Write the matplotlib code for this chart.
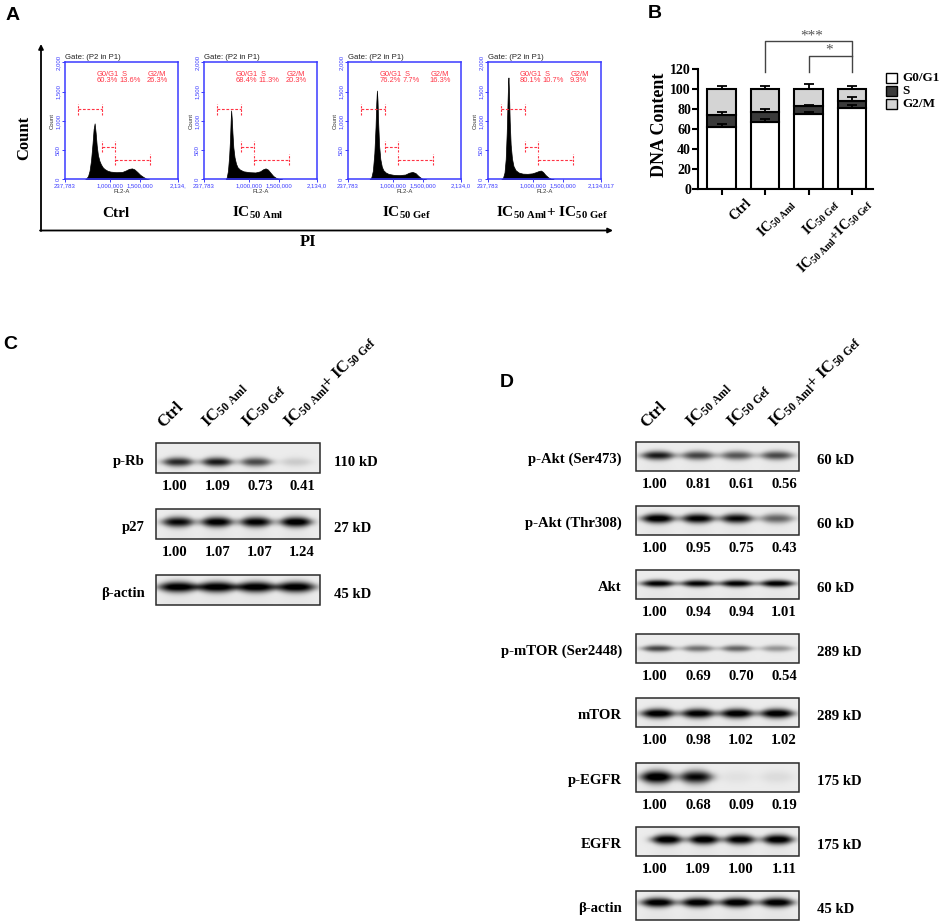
import numpy as np
import matplotlib
matplotlib.use('Agg')
import matplotlib.pyplot as plt
from matplotlib.patches import Rectangle

plt.rcParams['font.family'] = ['Liberation Serif', 'DejaVu Serif']
plt.rcParams['mathtext.fontset'] = 'custom'
plt.rcParams['mathtext.rm'] = 'Liberation Serif'
plt.rcParams['mathtext.bf'] = 'Liberation Serif:bold'
plt.rcParams['mathtext.it'] = 'Liberation Serif:italic'

W, H = 941, 922

# ---------------- data ----------------
treatments = ['Ctrl', r'IC$_{\mathbf{50\ Aml}}$', r'IC$_{\mathbf{50\ Gef}}$',
              r'IC$_{\mathbf{50\ Aml}}$+ IC$_{\mathbf{50\ Gef}}$']
treatments_b = ['Ctrl', r'IC$_{\mathbf{50\ Aml}}$', r'IC$_{\mathbf{50\ Gef}}$',
                r'IC$_{\mathbf{50\ Aml}}$+IC$_{\mathbf{50\ Gef}}$']

# Panel A: flow cytometry histograms (FL2-A in thousands, counts)
fl2_ctrl = [575, 600, 625, 650, 675, 700, 718, 735, 752, 770, 790, 815, 840, 870, 900, 950,
            1000, 1100, 1200, 1260, 1310, 1360, 1400, 1450, 1500, 1550, 1600, 1650]
cnt_ctrl = [0, 25, 60, 150, 330, 620, 860, 960, 800, 580, 420, 320, 260, 210, 180, 150,
            135, 125, 130, 155, 180, 190, 175, 130, 80, 45, 15, 0]
fl2_aml = [600, 620, 640, 660, 675, 685, 693, 703, 715, 730, 750, 775, 800, 840, 900, 1000,
           1100, 1180, 1230, 1271, 1310, 1350, 1400, 1450, 1500, 1550]
cnt_aml = [0, 40, 150, 400, 700, 1000, 1180, 1050, 800, 550, 380, 270, 210, 170, 140, 125,
           120, 140, 175, 190, 170, 120, 60, 25, 8, 0]
fl2_gef = [600, 630, 655, 680, 700, 712, 723, 733, 745, 760, 780, 805, 830, 870, 920, 1000,
           1100, 1200, 1260, 1319, 1370, 1420, 1470, 1510, 1550]
cnt_gef = [0, 40, 150, 450, 900, 1300, 1520, 1350, 950, 580, 350, 220, 160, 120, 95, 80,
           75, 85, 115, 130, 110, 60, 20, 5, 0]
fl2_combo = [460, 490, 515, 535, 552, 565, 575, 581, 590, 602, 618, 640, 665, 700, 750, 820,
             900, 980, 1040, 1090, 1125, 1160, 1200, 1250, 1300, 1340]
cnt_combo = [0, 30, 120, 350, 800, 1300, 1650, 1744, 1500, 1000, 600, 360, 230, 160, 120, 100,
             97, 105, 125, 145, 153, 130, 80, 35, 10, 0]

phase_names = ['G0/G1', 'S', 'G2/M']
phase_pct = [[60.3, 13.6, 26.3], [68.4, 11.3, 20.3], [76.2, 7.7, 16.3], [80.1, 10.7, 9.3]]
# gates: (start, end, level) in FL2-A / counts
gates = [(450000, 856000, 1200), (856000, 1085000, 560), (1085000, 1665000, 340)]
hist_xticks = [237783, 1000000, 1500000, 2134017]
hist_xticklabels = [['237,783', '1,000,000', '1,500,000', '2,134,'],
                    ['237,783', '1,000,000', '1,500,000', '2,134,0'],
                    ['237,783', '1,000,000', '1,500,000', '2,134,0'],
                    ['237,783', '1,000,000', '1,500,000', '2,134,017']]
hist_yticks = [0, 500, 1000, 1500, 2000]
hist_yticklabels = ['0', '500', '1,000', '1,500', '2,000']

# Panel B: DNA content stacked bars
g0g1 = [62.3, 67.3, 74.7, 80.7]
s_phase = [11.7, 9.4, 8.6, 7.4]
g2m = [26.0, 23.3, 16.7, 11.9]
err_g0g1 = [2.4, 2.4, 2.0, 3.3]
err_s = [2.8, 3.3, 0.8, 3.5]
err_g2m = [3.0, 3.0, 4.7, 3.0]
b_yticks = [0, 20, 40, 60, 80, 100, 120]

# Panel C: western blots
c_names = ['p-Rb', 'p27', 'β-actin']
c_kd = ['110 kD', '27 kD', '45 kD']
c_values = [[1.00, 1.09, 0.73, 0.41], [1.00, 1.07, 1.07, 1.24], None]
c_dark = [[0.72, 0.78, 0.60, 0.12], [0.85, 0.92, 0.90, 0.95], [0.95, 0.95, 0.95, 0.95]]

# Panel D: western blots
d_names = ['p-Akt (Ser473)', 'p-Akt (Thr308)', 'Akt', 'p-mTOR (Ser2448)', 'mTOR',
           'p-EGFR', 'EGFR', 'β-actin']
d_kd = ['60 kD', '60 kD', '60 kD', '289 kD', '289 kD', '175 kD', '175 kD', '45 kD']
d_values = [[1.00, 0.81, 0.61, 0.56], [1.00, 0.95, 0.75, 0.43], [1.00, 0.94, 0.94, 1.01],
            [1.00, 0.69, 0.70, 0.54], [1.00, 0.98, 1.02, 1.02], [1.00, 0.68, 0.09, 0.19],
            [1.00, 1.09, 1.00, 1.11], None]
d_dark = [[0.78, 0.62, 0.55, 0.60], [0.95, 0.90, 0.85, 0.50], [0.90, 0.88, 0.90, 0.92],
          [0.62, 0.45, 0.50, 0.32], [0.95, 0.92, 0.95, 0.95], [0.98, 0.85, 0.04, 0.06],
          [0.95, 0.95, 0.92, 0.95], [0.95, 0.95, 0.97, 0.95]]

# ---------------- figure ----------------
fig = plt.figure(figsize=(W / 100, H / 100), dpi=100)
bg = fig.add_axes([0, 0, 1, 1], zorder=0)
bg.axis('off')

BLUE = '#3a3aff'
RED = '#ff3344'
SANS = 'Liberation Sans'

# panel letters
for letter, (lx, ly) in zip('ABCD', [(13, 16), (655, 14), (10, 344), (507, 382)]):
    bg.text(lx, ly, letter, fontsize=14, fontweight='bold', family=SANS, ha='center', va='center')

# ---------- Panel A ----------
hist_x = [fl2_ctrl, fl2_aml, fl2_gef, fl2_combo]
hist_y = [cnt_ctrl, cnt_aml, cnt_gef, cnt_combo]
hist_lefts = [65, 204, 348, 488]
label_cx = [116, 258, 407, 552]
for i in range(4):
    ax = fig.add_axes([hist_lefts[i] / W, 1 - 179.5 / H, 113 / W, 117 / H], zorder=2)
    ax.fill_between(np.array(hist_x[i]) * 1000, hist_y[i], color='black', lw=0.5, ec='black')
    ax.set_xlim(237783, 2134017)
    ax.set_ylim(0, 2000)
    for sp in ax.spines.values():
        sp.set_color(BLUE)
        sp.set_linewidth(1.1)
    ax.set_yticks(hist_yticks)
    ax.set_yticklabels(hist_yticklabels, rotation=90, va='center', fontsize=4.3, family=SANS)
    ax.set_xticks(hist_xticks)
    ax.set_xticklabels(hist_xticklabels[i], fontsize=4.3, family=SANS)
    ax.tick_params(colors=BLUE, length=2, width=0.7, pad=1)
    ax.set_xlabel('FL2-A', fontsize=4.3, family=SANS, labelpad=0.5, color='#333333')
    ax.set_ylabel('Count', fontsize=4.3, family=SANS, labelpad=1, color='#333333')
    ax.text(0.0, 1.01, 'Gate: (P2 in P1)', transform=ax.transAxes, fontsize=5.6,
            family=SANS, ha='left', va='bottom', color='#222222')
    for nm, hx in zip(phase_names, [0.28, 0.50, 0.735]):
        ax.text(hx, 0.895, nm, transform=ax.transAxes, fontsize=5.4, family=SANS,
                color=RED, ha='left', va='center')
    for v, hx in zip(phase_pct[i], [0.28, 0.485, 0.72]):
        ax.text(hx, 0.845, f'{v}%', transform=ax.transAxes, fontsize=5.4, family=SANS,
                color=RED, ha='left', va='center')
    for (g0, g1, lev) in gates:
        ax.plot([g0, g1], [lev, lev], color=RED, lw=0.8, dashes=(2.5, 1.5))
        for gx in (g0, g1):
            ax.plot([gx, gx], [lev - 95, lev + 95], color=RED, lw=0.8, dashes=(2.0, 1.2))
    bg.text(label_cx[i], 213, treatments[i], fontsize=11, fontweight='bold',
            ha='center', va='center')

bg.annotate('', xy=(41, 44), xytext=(41, 231),
            arrowprops=dict(arrowstyle='-|>', color='black', lw=1.3, mutation_scale=7,
                            shrinkA=0, shrinkB=0))
bg.annotate('', xy=(613, 230.5), xytext=(40, 230.5),
            arrowprops=dict(arrowstyle='-|>', color='black', lw=1.3, mutation_scale=7,
                            shrinkA=0, shrinkB=0))
bg.text(24, 138, 'Count', rotation=90, fontsize=12, fontweight='bold', ha='center', va='center')
bg.text(308, 242, 'PI', fontsize=12, fontweight='bold', ha='center', va='center')

# ---------- Panel B ----------
axb = fig.add_axes([698 / W, 1 - 189 / H, 175 / W, 120 / H], zorder=2)
xb = np.arange(4)
bw = 0.655
g0g1_a = np.array(g0g1)
s_a = np.array(s_phase)
g2m_a = np.array(g2m)
axb.bar(xb, g0g1_a, bw, color='white', edgecolor='black', lw=1.5, zorder=2)
axb.bar(xb, s_a, bw, bottom=g0g1_a, color='#3a3a3a', edgecolor='black', lw=1.5, zorder=2)
axb.bar(xb, g2m_a, bw, bottom=g0g1_a + s_a, color='#d4d4d4', edgecolor='black', lw=1.5, zorder=2)
zeros = np.zeros(4)
for top, err in [(g0g1_a, err_g0g1), (g0g1_a + s_a, err_s), (g0g1_a + s_a + g2m_a, err_g2m)]:
    axb.errorbar(xb, top, yerr=[zeros, err], fmt='none', ecolor='black', elinewidth=1.3,
                 capsize=3.6, capthick=1.3, zorder=3)
axb.set_xlim(-0.54, 3.48)
axb.set_ylim(0, 120)
axb.set_yticks(b_yticks)
axb.set_yticklabels([str(v) for v in b_yticks], fontsize=10, fontweight='bold')
axb.set_xticks(xb)
axb.set_xticklabels([])
axb.tick_params(length=4, width=1.5, pad=1)
for sp in ['top', 'right']:
    axb.spines[sp].set_visible(False)
for sp in ['left', 'bottom']:
    axb.spines[sp].set_linewidth(1.5)
bg.text(660, 125, 'DNA Content', rotation=90, fontsize=13, fontweight='bold',
        ha='center', va='center')
axb.plot([1, 1, 3, 3], [117, 148, 148, 117], color='#444444', lw=1, clip_on=False)
axb.plot([2, 2, 3], [117, 133.3, 133.3], color='#444444', lw=1, clip_on=False)
axb.text(2.08, 149.5, '***', fontsize=11, color='#555555', ha='center', va='baseline')
axb.text(2.48, 135, '*', fontsize=11, color='#555555', ha='center', va='baseline')
b_centers_px = [721.5, 765, 808.5, 852]
b_label_dx = [23, 23, 23, 12]
for cx, dx, lab in zip(b_centers_px, b_label_dx, treatments_b):
    bg.text(cx + dx, 196, lab, rotation=45, rotation_mode='anchor', ha='right', va='top',
            fontsize=10, fontweight='bold')
# legend
leg_colors = ['white', '#3a3a3a', '#d4d4d4']
for nm, col, cy in zip(phase_names, leg_colors, [78, 91, 104]):
    bg.add_patch(Rectangle((886, cy - 5), 11, 10, fc=col, ec='black', lw=1.0, zorder=3))
    bg.text(902, cy, nm, fontsize=9.5, fontweight='bold', ha='left', va='center')


# ---------- Western blots ----------
def draw_blot(x0, y0, w, h, centers, dark, a, b, yoff, base=0.07):
    nx, ny = int(w * 4), int(h * 4)
    xs = np.linspace(x0, x0 + w, nx)
    ys = np.linspace(y0, y0 + h, ny)
    X, Y = np.meshgrid(xs, ys)
    Z = np.full_like(X, base)
    yc = y0 + h / 2 + yoff
    for c, d in zip(centers, dark):
        u = np.clip((X - c) / a, -1.5, 1.5)
        bb = b * (1 - 0.3 * np.clip(u ** 2, 0, 1))
        Z += d * np.exp(-np.abs((X - c) / a) ** 3) * np.exp(-((Y - yc) / bb) ** 2)
        # faint smear below each band
        Z += 0.05 * d * np.exp(-np.abs((X - c) / a) ** 3) * np.clip((Y - yc) / h, 0, 1)
    Z = np.clip(Z * 1.08, 0, 1)
    bg.imshow(Z, cmap='gray_r', vmin=0, vmax=1, extent=(x0, x0 + w, y0 + h, y0),
              aspect='auto', interpolation='bilinear', zorder=1)
    bg.add_patch(Rectangle((x0, y0), w, h, fill=False, ec='#2a2a2a', lw=1.1, zorder=2))


FS = 10.6
# Panel C
c_x0, c_w, c_h = 156, 164, 30
c_tops = [443, 509, 575]
c_lanes = [178, 217, 256, 296]
c_numx = [175, 218, 260, 302]
c_geom = [(15.5, 4.6, 4), (16, 5.2, -2), (19.5, 5.4, -3)]
for k in range(3):
    a, b, yo = c_geom[k]
    draw_blot(c_x0, c_tops[k], c_w, c_h, c_lanes, c_dark[k], a, b, yo)
    cy = c_tops[k] + c_h / 2
    bg.text(145, cy + 7, c_names[k], fontsize=FS, fontweight='bold', ha='right', va='baseline')
    bg.text(334, cy + 8, c_kd[k], fontsize=FS, fontweight='bold', ha='left', va='baseline')
    if c_values[k] is not None:
        for nx_, v in zip(c_numx, c_values[k]):
            bg.text(nx_, c_tops[k] + 47, f'{v:.2f}', fontsize=FS, fontweight='bold',
                    ha='center', va='baseline')
for sx, lab in zip([163, 208, 248, 290], treatments):
    bg.text(sx, 428, lab, rotation=45, rotation_mode='anchor', ha='left', va='baseline',
            fontsize=12, fontweight='bold')

# Panel D
d_x0, d_w, d_h = 636, 163, 29
d_tops = [442, 506, 570, 634, 698, 763, 827, 891]
d_lanes = [658, 698, 737, 777]
d_numx = [655, 698, 741, 784]
d_geom = [(16.5, 4.5, -1), (16.5, 4.8, -2), (17, 3.6, -1), (16, 3.4, 0), (17, 4.8, 1),
          (16.5, 6.2, 0), (15.5, 5.0, -2), (17, 4.8, -3)]
d_lane_sets = [d_lanes, d_lanes, d_lanes, d_lanes, d_lanes,
               [657, 696, 737, 777], [667, 704, 740, 778], d_lanes]
for k in range(8):
    a, b, yo = d_geom[k]
    draw_blot(d_x0, d_tops[k], d_w, d_h, d_lane_sets[k], d_dark[k], a, b, yo)
    cy = d_tops[k] + d_h / 2
    bg.text(622, cy + 6, d_names[k], fontsize=FS, fontweight='bold', ha='right', va='baseline')
    bg.text(817, cy + 7, d_kd[k], fontsize=FS, fontweight='bold', ha='left', va='baseline')
    if d_values[k] is not None:
        for nx_, v in zip(d_numx, d_values[k]):
            bg.text(nx_, d_tops[k] + 46, f'{v:.2f}', fontsize=FS, fontweight='bold',
                    ha='center', va='baseline')
for sx, lab in zip([646, 692, 733, 775], treatments):
    bg.text(sx, 428, lab, rotation=45, rotation_mode='anchor', ha='left', va='baseline',
            fontsize=12, fontweight='bold')

bg.set_xlim(0, W)
bg.set_ylim(H, 0)

fig.savefig('out.png', dpi=100, facecolor='white')
